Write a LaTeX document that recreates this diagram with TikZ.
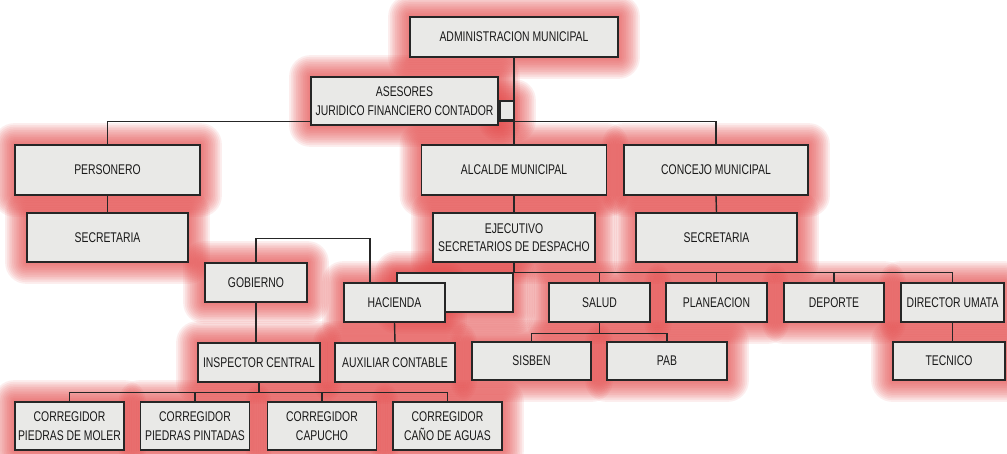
\documentclass[tikz,border=0pt]{standalone}
\usepackage{fontspec}
\setmainfont{Liberation Sans}[FakeStretch=0.74]
\definecolor{glowred}{RGB}{226,70,70}
\definecolor{boxgray}{RGB}{233,233,231}
\pgfdeclarelayer{glow}
\pgfdeclarelayer{lines}
\pgfsetlayers{glow,lines,main}
\tikzset{
  box/.style={draw=black!85, line width=0.9pt, fill=boxgray, inner sep=1pt, align=center,
    text=black!90, font=\fontsize{8}{10.5}\selectfont, minimum height=0.78cm},
  link/.style={line width=0.8pt, draw=black!85},
}
\begin{document}
\begin{tikzpicture}[x=0.02cm, y=-0.02cm]
\useasboundingbox (0,0) rectangle (1007,453);

\node[box, minimum width=4.16cm, minimum height=0.8cm] (admin) at (514,37) {ADMINISTRACION MUNICIPAL};
\node[box, minimum width=3.74cm, minimum height=0.96cm] (asesores) at (404.5,101) {ASESORES\\JURIDICO FINANCIERO CONTADOR};
\node[box, minimum width=0.28cm, minimum height=0.38cm, inner sep=0pt] (tab) at (507,110.5) {};
\node[box, minimum width=3.7cm, minimum height=1cm] (personero) at (107.5,170) {PERSONERO};
\node[box, minimum width=3.7cm, minimum height=1cm] (alcalde) at (514,170) {ALCALDE MUNICIPAL};
\node[box, minimum width=3.68cm, minimum height=1cm] (concejo) at (716,170) {CONCEJO MUNICIPAL};
\node[box, minimum width=3.22cm, minimum height=0.98cm] (secre1) at (107.5,237.5) {SECRETARIA};
\node[box, minimum width=3.24cm, minimum height=0.98cm] (ejecutivo) at (514,237.5) {EJECUTIVO\\SECRETARIOS DE DESPACHO};
\node[box, minimum width=3.22cm, minimum height=0.98cm] (secre2) at (716.5,237.5) {SECRETARIA};
\node[box, minimum width=2.32cm] (blank) at (455,292.5) {};
\node[box, minimum width=2.02cm] (salud) at (599.5,302.5) {SALUD};
\node[box, minimum width=2.02cm] (planeacion) at (716.5,302.5) {PLANEACION};
\node[box, minimum width=2cm] (deporte) at (834,302.5) {DEPORTE};
\node[box, minimum width=2.06cm] (umata) at (952.5,302.5) {DIRECTOR UMATA};
\node[box, minimum width=2.38cm, minimum height=0.76cm] (sisben) at (531.5,361) {SISBEN};
\node[box, minimum width=2.4cm, minimum height=0.76cm] (pab) at (667,361) {PAB};
\node[box, minimum width=2.24cm, minimum height=0.76cm] (tecnico) at (949,361) {TECNICO};
\node[box, minimum width=2.04cm] (gobierno) at (256,282.5) {GOBIERNO};
\node[box, minimum width=2.02cm] (hacienda) at (394.5,302.5) {HACIENDA};
\node[box, minimum width=2.44cm] (inspector) at (259,362.5) {INSPECTOR CENTRAL};
\node[box, minimum width=2.4cm] (auxiliar) at (395,362.5) {AUXILIAR CONTABLE};
\foreach \i/\x/\t in {1/69.5/PIEDRAS DE MOLER, 2/195/PIEDRAS PINTADAS, 3/322/CAPUCHO, 4/447.5/CAÑO DE AGUAS}
    \node[box, minimum width=2.18cm, minimum height=0.96cm] (corr\i) at (\x,426) {CORREGIDOR\\\t};

\begin{pgfonlayer}{lines}
\draw[link] (admin.south) -- (alcalde.north);
\draw[link] (personero.north) -- ++(0,-23) -| (concejo.north);
\draw[link] (personero.south) -- (secre1.north);
\draw[link] (alcalde.south) -- (ejecutivo.north);
\draw[link] (concejo.south) -- (secre2.north);
\draw[link] (ejecutivo.south) -- (ejecutivo.south |- blank.north);
\draw[link] (blank.north west) -| (umata.north);
\foreach \n in {salud, planeacion, deporte}
    \draw[link] (\n.north) -- (\n.north |- blank.north);
\draw[link] (salud.south) -- ++(0,11) coordinate (salud bus);
\draw[link] (sisben.north) |- (salud bus) -| (pab.north);
\draw[link] (umata.south) -- (umata.south |- tecnico.north);
\draw[link] (gobierno.north) -- ++(0,-24) -| ([xshift=-0.49cm]hacienda.north);
\draw[link] (gobierno.south) -- (gobierno.south |- inspector.north);
\draw[link] (hacienda.south) -- (auxiliar.north);
\draw[link] (inspector.south) -- ++(0,10) coordinate (insp bus);
\draw[link] (corr1.north) |- (insp bus) -| (corr4.north);
\foreach \i in {2,3}
    \draw[link] (corr\i.north) -- (corr\i.north |- insp bus);
\end{pgfonlayer}

\begin{pgfonlayer}{glow}
\foreach \n in {admin, asesores, tab, personero, alcalde, concejo, secre1, ejecutivo, secre2,
    blank, salud, planeacion, deporte, umata, sisben, pab, tecnico, gobierno, hacienda,
    inspector, auxiliar, corr1, corr2, corr3, corr4}
  \foreach \g in {1,...,12}
    \fill[glowred, opacity=0.09, rounded corners=\g pt] ([shift={(-\g pt,\g pt)}]\n.north west) rectangle ([shift={(\g pt,-\g pt)}]\n.south east);
\end{pgfonlayer}
\end{tikzpicture}
\end{document}
